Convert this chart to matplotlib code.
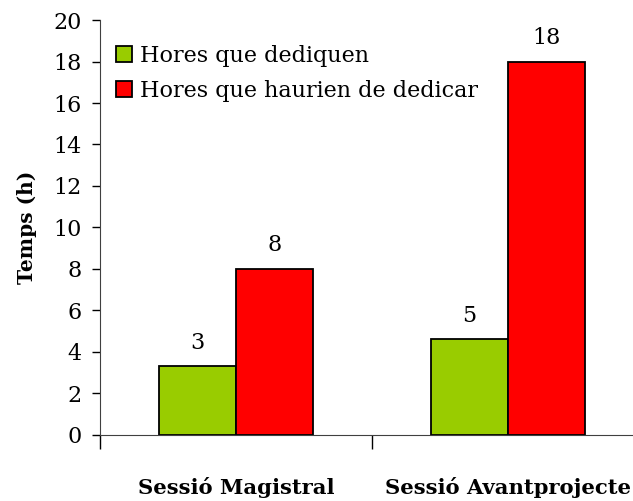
import matplotlib
import matplotlib.pyplot as plt
import numpy as np

matplotlib.use("Agg")
plt.rcParams["font.family"] = ["DejaVu Serif"]

# Data.
categories = ["Sessió Magistral", "Sessió Avantprojecte"]
series_names = ["Hores que dediquen", "Hores que haurien de dedicar"]
hores_dediquen = [3.3, 4.6]
hores_haurien = [8, 18]
labels_dediquen = ["3", "5"]
labels_haurien = ["8", "18"]
colors = ["#99CC00", "#FF0000"]

fig = plt.figure(figsize=(6.33, 5.01), dpi=100)
ax = fig.add_axes([0.158, 0.132, 0.859, 0.828])

x = np.arange(len(categories))
width = 0.283

bars1 = ax.bar(x - width / 2, hores_dediquen, width, color=colors[0],
               edgecolor="black", linewidth=1.3, label=series_names[0])
bars2 = ax.bar(x + width / 2, hores_haurien, width, color=colors[1],
               edgecolor="black", linewidth=1.3, label=series_names[1])

# Value labels above the bars.
for bars, labs in ((bars1, labels_dediquen), (bars2, labels_haurien)):
    for b, lab in zip(bars, labs):
        ax.annotate(lab, (b.get_x() + b.get_width() / 2, b.get_height()),
                    xytext=(0, 9), textcoords="offset points",
                    ha="center", va="bottom", fontsize=16)

ax.set_xlim(-0.5, 1.5)
ax.set_ylim(0, 20)
ax.set_yticks(range(0, 21, 2))
ax.tick_params(axis="y", labelsize=16, direction="out", length=6, width=1, pad=7)

# Category separators as major ticks, labels on minor ticks.
ax.set_xticks([-0.5, 0.5, 1.5])
ax.set_xticklabels([])
ax.set_xticks(x, minor=True)
ax.set_xticklabels(categories, minor=True, fontsize=15.2, fontweight="bold")
ax.tick_params(axis="x", which="major", direction="out", length=10, width=1)
ax.tick_params(axis="x", which="minor", length=0, pad=30)

for s in ["top", "right"]:
    ax.spines[s].set_visible(False)
ax.spines["left"].set_color("#404040")
ax.spines["bottom"].set_color("#404040")

ax.set_ylabel("Temps (h)", fontsize=14.5, fontweight="bold", labelpad=12)

ax.legend(loc="upper left", bbox_to_anchor=(0.0, 0.978), frameon=False,
          fontsize=16, handlelength=0.72, handleheight=0.72, handletextpad=0.36,
          labelspacing=0.6, borderaxespad=0.3)

fig.savefig("out.png", dpi=100, facecolor="white")
